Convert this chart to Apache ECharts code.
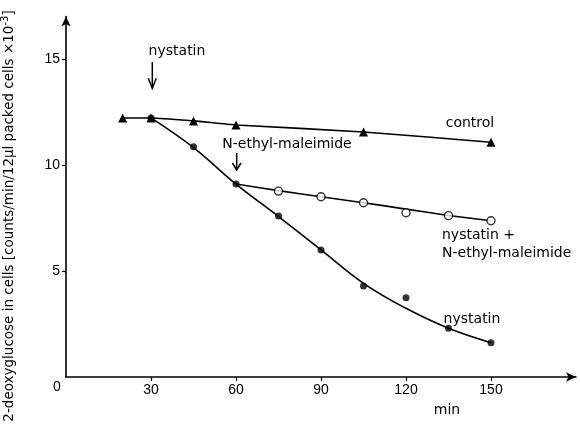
<!DOCTYPE html>
<html>
<head>
<meta charset="utf-8">
<script src="https://cdn.jsdelivr.net/npm/echarts@6/dist/echarts.min.js"></script>
<style>html,body{margin:0;padding:0;background:#fff}#c{width:580px;height:433px}</style>
</head>
<body>
<div id="c"></div>
<script>
// ---- data ----
const controlX = [20, 30, 45, 60, 105, 150];
const controlY = [12.22, 12.22, 12.08, 11.89, 11.56, 11.07];

const nystatinX = [30, 45, 60, 75, 90, 105, 120, 135, 150];
const nystatinY = [12.22, 10.86, 9.10, 7.59, 5.99, 4.29, 3.74, 2.30, 1.62];
const nystatinCurveY = [12.22, 10.82, 9.10, 7.57, 6.00, 4.42, 3.24, 2.30, 1.62];

const nemX = [60, 75, 90, 105, 120, 135, 150];
const nemCurveY = [9.10, 8.79, 8.50, 8.22, 7.92, 7.62, 7.37];
const nemOpenX = [75, 90, 105, 120, 135, 150];
const nemOpenY = [8.77, 8.50, 8.22, 7.75, 7.61, 7.37];

const xTicks = [30, 60, 90, 120, 150];
const yTicks = [5, 10, 15];

const zip = (xs, ys) => xs.map((x, i) => [x, ys[i]]);

const chart = echarts.init(document.getElementById('c'), null, {renderer: 'canvas'});
const F = 'DejaVu Sans';
const lineStyle = {color: '#000', width: 1.6};

chart.setOption({
  animation: false,
  backgroundColor: '#fff',
  grid: {left: 66, right: 4, top: 16.6, bottom: 56, containLabel: false},
  xAxis: {
    type: 'value', min: 0, max: 180, interval: 30,
    axisLine: {show: true, lineStyle: {color: '#000', width: 1.6}, symbol: ['none', 'arrow'], symbolSize: [7, 10]},
    axisTick: {show: true, length: 4, lineStyle: {color: '#000', width: 1.2}, customValues: xTicks},
    axisLabel: {color: '#000', fontFamily: 'Liberation Sans', fontSize: 14, margin: 6, customValues: xTicks},
    splitLine: {show: false}
  },
  yAxis: {
    type: 'value', min: 0, max: 17, interval: 5,
    axisLine: {show: true, lineStyle: {color: '#000', width: 1.6}, symbol: ['none', 'arrow'], symbolSize: [7, 10]},
    axisTick: {show: true, length: 4, lineStyle: {color: '#000', width: 1.2}, customValues: yTicks},
    axisLabel: {color: '#000', fontFamily: 'Liberation Sans', fontSize: 14, margin: 6, customValues: yTicks},
    splitLine: {show: false}
  },
  series: [
    {
      name: 'control', type: 'line', data: zip(controlX, controlY), smooth: 0.2,
      symbol: 'triangle', symbolSize: 9, itemStyle: {color: '#000'}, lineStyle: lineStyle, z: 3
    },
    {
      name: 'nystatin curve', type: 'line', data: zip(nystatinX, nystatinCurveY), smooth: 0.4,
      symbol: 'none', lineStyle: lineStyle, z: 2
    },
    {
      name: 'nystatin', type: 'scatter', data: zip(nystatinX, nystatinY),
      symbol: 'circle', symbolSize: 7, itemStyle: {color: '#000'}, z: 4
    },
    {
      name: 'nem curve', type: 'line', data: zip(nemX, nemCurveY), smooth: 0.2,
      symbol: 'none', lineStyle: lineStyle, z: 2
    },
    {
      name: 'nystatin + NEM', type: 'scatter', data: zip(nemOpenX, nemOpenY),
      symbol: 'circle', symbolSize: 8, itemStyle: {color: '#fff', borderColor: '#000', borderWidth: 1.4}, z: 5
    }
  ]
});

const txt = (x, y, text, align, size) => ({
  type: 'text', x: x, y: y, z: 10,
  style: {text: text, fill: '#000', font: (size || 14) + 'px "' + F + '"', align: align || 'center', verticalAlign: 'middle'}
});
const arrow = (x, y1, y2, hw, hh) => ([
  {type: 'line', shape: {x1: x, y1: y1, x2: x, y2: y2}, style: {stroke: '#000', lineWidth: 1.5}, z: 10},
  {type: 'polyline', shape: {points: [[x - hw, y2 - hh], [x, y2], [x + hw, y2 - hh]]}, style: {stroke: '#000', lineWidth: 1.5, fill: null}, z: 10}
]);

chart.setOption({
  graphic: [
    txt(177, 51, 'nystatin'),
    ...arrow(152.3, 62, 88.3, 4, 10),
    txt(287, 144, 'N-ethyl-maleimide'),
    ...arrow(236.7, 153, 170, 4.3, 7),
    txt(470, 123, 'control'),
    txt(442, 235, 'nystatin +', 'left'),
    txt(442, 253, 'N-ethyl-maleimide', 'left'),
    txt(472, 319, 'nystatin'),
    txt(447, 410, 'min'),
    {type: 'text', x: 57, y: 387, z: 10, style: {text: '0', fill: '#000', font: '14px "Liberation Sans"', align: 'center', verticalAlign: 'middle'}},
    {
      type: 'text', x: 9, y: 216, rotation: Math.PI / 2, z: 10,
      style: {
        text: '{a|2-deoxyglucose in cells [counts/min/12µl packed cells ×10}{s|-3}{a|]}',
        align: 'center', verticalAlign: 'middle',
        rich: {
          a: {fontFamily: F, fontSize: 13.5, fill: '#000', color: '#000'},
          s: {fontFamily: F, fontSize: 10, fill: '#000', color: '#000', verticalAlign: 'top', padding: [0, 0, 8, 0]}
        }
      }
    }
  ]
});
</script>
</body>
</html>
